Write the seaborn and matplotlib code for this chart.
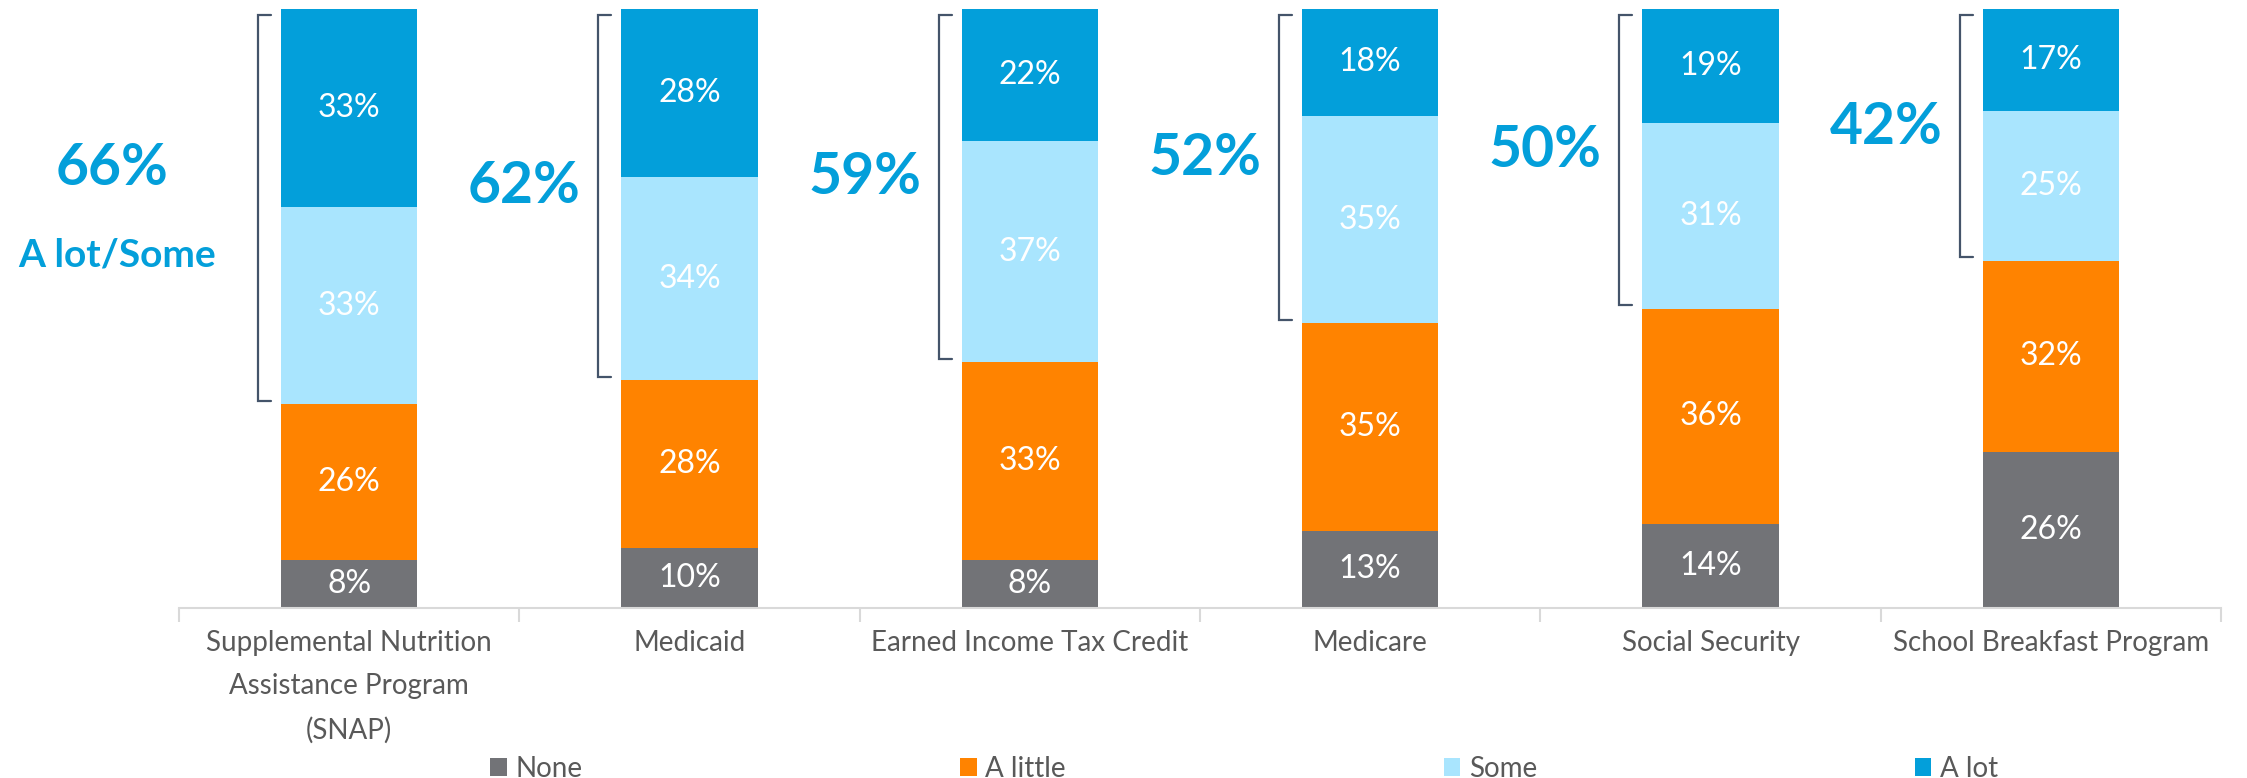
import matplotlib
matplotlib.use("Agg")
import matplotlib.pyplot as plt
import numpy as np
import pandas as pd
import seaborn as sns
from matplotlib.patches import Patch

# Survey shares (%) by program and response level
programs = [
    "Supplemental Nutrition\nAssistance Program\n(SNAP)",
    "Medicaid",
    "Earned Income Tax Credit",
    "Medicare",
    "Social Security",
    "School Breakfast Program",
]
none = [8, 10, 8, 13, 14, 26]
a_little = [26, 28, 33, 35, 36, 32]
some = [33, 34, 37, 35, 31, 25]
a_lot = [33, 28, 22, 18, 19, 17]
net_a_lot_some = [66, 62, 59, 52, 50, 42]

levels = ["None", "A little", "Some", "A lot"]
colors = {"None": "#727377", "A little": "#FF8300", "Some": "#A9E5FE", "A lot": "#039FDA"}
accent = "#039FDA"
text_grey = "#595959"
bracket_col = "#44546A"

sns.set_theme(style="white")
plt.rcParams["font.family"] = ["Lato", "DejaVu Sans"]

df = pd.DataFrame({"program": programs, "None": none, "A little": a_little,
                   "Some": some, "A lot": a_lot})
total = df[levels].sum(axis=1)
shares = df[levels].div(total, axis=0)          # 100% stacked
cum = shares.cumsum(axis=1)

W, H = 2247, 778
fig = plt.figure(figsize=(W / 100, H / 100), dpi=100)
ax = fig.add_axes([179 / W, 1 - 608 / H, (2221 - 179) / W, (608 - 9) / H])

# Stacked bars drawn as overlapping cumulative totals, tallest first
for lvl in reversed(levels):
    plot_df = pd.DataFrame({"program": programs, "cum": cum[lvl].values})
    sns.barplot(data=plot_df, x="program", y="cum", order=programs, color=colors[lvl],
                width=0.4, saturation=1, errorbar=None, linewidth=0, ax=ax)

# Segment value labels
for lvl in levels:
    for i in range(len(programs)):
        yc = cum[lvl].iloc[i] - shares[lvl].iloc[i] / 2
        ax.text(i, yc, f"{df[lvl].iloc[i]}%", ha="center", va="center",
                color="white", fontsize=23)

# Brackets around "Some" + "A lot", with the net share beside them
bw = 0.4
for i in range(len(programs)):
    x0 = i - bw / 2 - 0.068
    top = 0.99
    bot = cum["A little"].iloc[i] + 0.006
    ax.plot([x0 + 0.038, x0, x0, x0 + 0.038], [top, top, bot, bot],
            color=bracket_col, lw=1.6, clip_on=False, solid_joinstyle="miter")
    mid = (top + bot) / 2
    if i == 0:
        ax.text(-0.697, mid + 0.066, f"{net_a_lot_some[i]}%", ha="center", va="center",
                color=accent, fontsize=41, fontweight="bold", clip_on=False)
        ax.text(-0.682, mid - 0.078, "A lot/Some", ha="center", va="center",
                color=accent, fontsize=28, fontweight="bold", clip_on=False)
    else:
        ax.text(i - 0.485, mid + 0.015, f"{net_a_lot_some[i]}%", ha="center", va="center",
                color=accent, fontsize=41, fontweight="bold")

# Axes styling
ax.set_xlim(-0.5, len(programs) - 0.5)
ax.set_ylim(0, 1)
ax.set_yticks([])
ax.set_xlabel("")
ax.set_ylabel("")
for s in ["top", "right", "left"]:
    ax.spines[s].set_visible(False)
ax.spines["bottom"].set_color("#D9D9D9")
ax.spines["bottom"].set_linewidth(1.5)
ax.set_xticks(range(len(programs)))
ax.set_xticklabels(programs, fontsize=20, color=text_grey, linespacing=1.8)
ax.set_xticks(np.arange(-0.5, len(programs)), minor=True)
ax.tick_params(axis="x", which="major", length=0, pad=16)
ax.tick_params(axis="x", which="minor", length=10, width=1.5, color="#D9D9D9",
               direction="out", bottom=True)

handles = [Patch(facecolor=colors[l], edgecolor="none") for l in levels]
fig.legend(handles, levels, loc="center", bbox_to_anchor=(0.5537, 0.012), ncol=4,
           frameon=False, fontsize=20, columnspacing=13.6, handlelength=0.6,
           handleheight=0.6, handletextpad=0.3, labelcolor=text_grey)

fig.savefig("out.png", dpi=100)
